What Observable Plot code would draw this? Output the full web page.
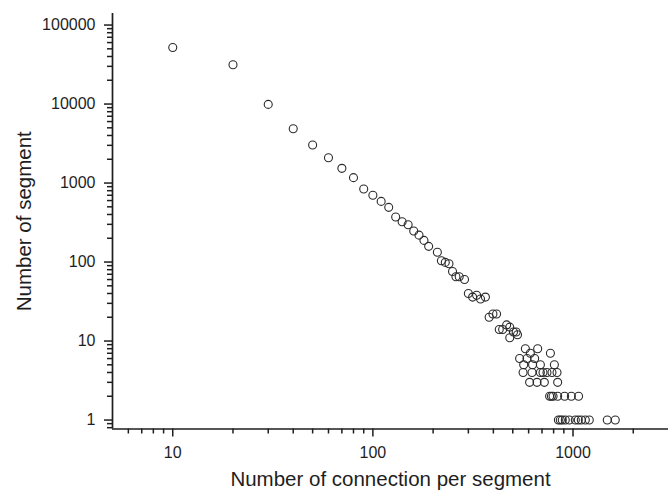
<!DOCTYPE html>
<html>
<head>
<meta charset="utf-8">
<script src="https://cdn.jsdelivr.net/npm/d3@7"></script>
<script src="https://cdn.jsdelivr.net/npm/@observablehq/plot@0.6"></script>
<style>
  html, body { margin: 0; padding: 0; background: #fff; }
  #chart svg { display: block; }
</style>
</head>
<body>
<div id="chart"></div>
<script>
// Number of connection per segment (x) and number of segments (y)
const connections = [
  10, 20, 30, 40, 50, 60, 70, 80, 90, 100,
  110, 120, 130, 140, 150, 160, 170, 180, 190, 210,
  220, 230, 240, 250, 260, 270, 287,
  300, 315, 330, 345, 365,
  381, 398, 415,
  428, 445, 466, 483, 483, 504, 520, 528,
  578, 666,
  612, 771,
  541, 589, 643,
  567, 628, 687, 807,
  563, 624, 687, 708, 741, 785, 832,
  607, 661, 719, 838,
  764, 780, 795, 838, 908, 981, 1066,
  845, 864, 884, 915, 958, 1027, 1063, 1100, 1152, 1206, 1483, 1626
];
const segments = [
  52000, 31500, 9900, 4870, 3030, 2090, 1535, 1170, 840, 700,
  586, 492, 372, 323, 296, 247, 219, 188, 158, 133,
  104, 99, 95, 76, 65, 65, 60,
  40, 36, 38, 34, 36,
  20, 22, 22,
  14, 14, 16, 15, 11, 13, 13, 12,
  8, 8,
  7, 7,
  6, 6, 6,
  5, 5, 5, 5,
  4, 4, 4, 4, 4, 4, 4,
  3, 3, 3, 3,
  2, 2, 2, 2, 2, 2, 2,
  1, 1, 1, 1, 1, 1, 1, 1, 1, 1, 1, 1
];

const xMajorTicks = [10, 100, 1000];
const xMinorTicks = [6, 7, 8, 9, 20, 30, 40, 50, 60, 70, 80, 90, 200, 300, 400, 500, 600, 700, 800, 900, 2000];
const yMajorTicks = [1, 10, 100, 1000, 10000, 100000];
const yMinorTicks = [0.8, 0.9];
for (const d of [1, 10, 100, 1000, 10000]) for (let k = 2; k <= 9; k++) yMinorTicks.push(d * k);

const xTitle = "Number of connection per segment";
const yTitle = "Number of segment";

const data = connections.map((c, i) => ({c, s: segments[i]}));

const font = "'Liberation Sans', Arial, Helvetica, sans-serif";
const ink = "#1e1e1e";

const chart = Plot.plot({
  width: 668,
  height: 491,
  marginLeft: 112,
  marginRight: 0,
  marginTop: 13,
  marginBottom: 62.5,
  style: {fontFamily: font, fontSize: "16px", color: ink, background: "#fff", overflow: "visible"},
  x: {type: "log", domain: [5, 3000]},
  y: {type: "log", domain: [0.77, 140000]},
  marks: [
    Plot.axisX({ticks: xMinorTicks, tickSize: 5, text: null, strokeWidth: 1.5, label: null}),
    Plot.axisX({ticks: xMajorTicks, tickSize: 8, tickPadding: 10, tickFormat: d => String(d), strokeWidth: 1.5, label: null, fontSize: 16, fill: ink}),
    Plot.axisY({ticks: yMinorTicks, tickSize: 5, text: null, strokeWidth: 1.5, label: null}),
    Plot.axisY({ticks: yMajorTicks, tickSize: 8, tickPadding: 9, tickFormat: d => String(d), strokeWidth: 1.5, label: null, fontSize: 16, fill: ink}),
    Plot.ruleX([5], {stroke: ink, strokeWidth: 1.7}),
    Plot.ruleY([0.77], {stroke: ink, strokeWidth: 1.7}),
    Plot.dot(data, {x: "c", y: "s", r: 4, stroke: "#2a2a2a", strokeWidth: 1.1, fill: "none"}),
    Plot.text([xTitle], {frameAnchor: "bottom", lineAnchor: "bottom", textAnchor: "middle", dy: 56.5, fontSize: 20.5, fill: ink}),
    Plot.text([yTitle], {frameAnchor: "left", lineAnchor: "bottom", textAnchor: "middle", rotate: -90, dx: -82, fontSize: 20.5, fill: ink})
  ]
});

document.getElementById("chart").appendChild(chart);
</script>
</body>
</html>
